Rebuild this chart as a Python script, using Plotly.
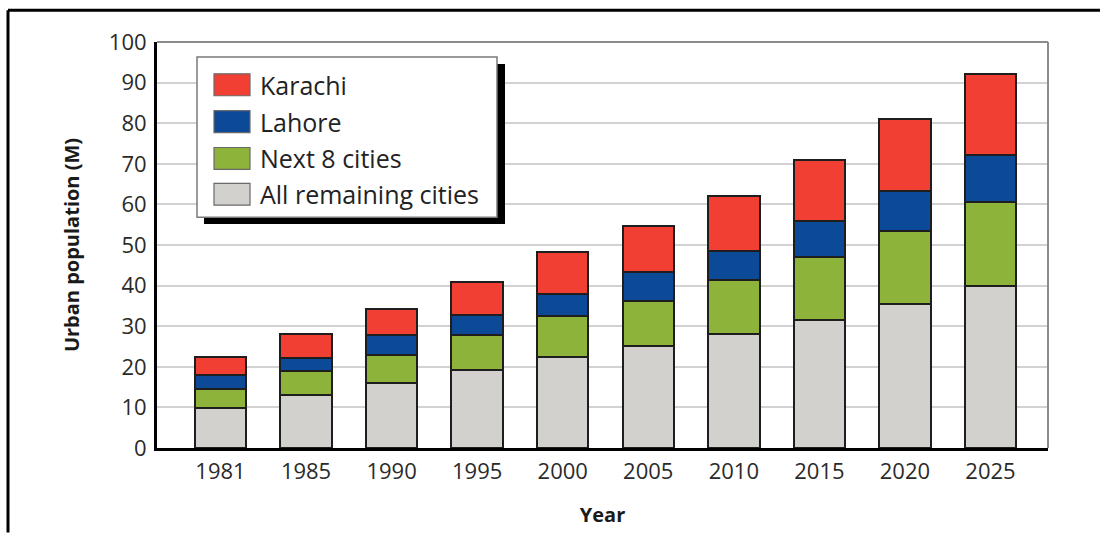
import plotly.graph_objects as go

# Urban population of Pakistan by city group (millions)
years = ["1981", "1985", "1990", "1995", "2000", "2005", "2010", "2015", "2020", "2025"]
remaining_cities = [9.8, 13.1, 15.9, 19.2, 22.5, 25.2, 28.0, 31.5, 35.4, 39.8]
next_8_cities = [4.7, 5.9, 7.1, 8.6, 10.0, 11.1, 13.5, 15.5, 18.1, 20.8]
lahore = [3.4, 3.2, 4.8, 4.9, 5.5, 7.1, 7.1, 8.9, 9.9, 11.6]
karachi = [4.6, 6.0, 6.5, 8.3, 10.2, 11.4, 13.4, 15.1, 17.6, 20.0]

y_ticks = list(range(0, 101, 10))

series = [
    ("All remaining cities", remaining_cities, "#D3D1CD"),
    ("Next 8 cities", next_8_cities, "#8DB33A"),
    ("Lahore", lahore, "#0C4A98"),
    ("Karachi", karachi, "#F23F33"),
]

FONT = "Open Sans"
W, H = 1100, 535
L, R, T, B = 157, 52, 42, 85
PW, PH = W - L - R, H - T - B


def px(x):
    return (x - L) / PW


def py(y):
    return (H - B - y) / PH


fig = go.Figure()
for name, vals, color in series:
    fig.add_trace(go.Bar(
        x=years, y=vals, name=name,
        marker=dict(color=color, line=dict(color="#1e1e1e", width=2)),
        showlegend=False,
    ))

shapes = [
    # plot frame: grey top and right edges
    dict(type="line", xref="paper", yref="paper", x0=0, x1=1, y0=1, y1=1,
         line=dict(color="#8c8c8c", width=2)),
    dict(type="line", xref="paper", yref="paper", x0=1, x1=1, y0=0, y1=1,
         line=dict(color="#8c8c8c", width=2)),
    # outer black frame corner
    dict(type="line", xref="paper", yref="paper", x0=px(8), x1=px(1100),
         y0=py(10), y1=py(10), line=dict(color="black", width=3)),
    dict(type="line", xref="paper", yref="paper", x0=px(8), x1=px(8),
         y0=py(10), y1=py(535), line=dict(color="black", width=3)),
    # legend shadow and box
    dict(type="rect", xref="paper", yref="paper", x0=px(204), x1=px(505),
         y0=py(64), y1=py(225), fillcolor="black", line=dict(width=0),
         layer="above"),
    dict(type="rect", xref="paper", yref="paper", x0=px(197), x1=px(497),
         y0=py(57), y1=py(218), fillcolor="white",
         line=dict(color="#7a7a7a", width=1.5), layer="above"),
]

annotations = []
legend_rows = [74, 111, 148, 184]
for (name, vals, color), top in zip(reversed(series), legend_rows):
    shapes.append(dict(type="rect", xref="paper", yref="paper",
                       x0=px(214), x1=px(250), y0=py(top), y1=py(top + 22),
                       fillcolor=color, line=dict(color="#6a6a6a", width=1.2),
                       layer="above"))
    annotations.append(dict(xref="paper", yref="paper", x=px(258), y=py(top + 11),
                            text=name, showarrow=False, xanchor="left",
                            yanchor="middle",
                            font=dict(family=FONT, size=25, color="#222")))

fig.update_layout(
    width=W, height=H,
    margin=dict(l=L, r=R, t=T, b=B, pad=0),
    paper_bgcolor="white", plot_bgcolor="white",
    barmode="stack", bargap=0.40,
    showlegend=False,
    shapes=shapes, annotations=annotations,
    font=dict(family=FONT, color="#2a2a2a"),
    xaxis=dict(
        type="category", range=[-0.742, 9.672],
        showline=True, linecolor="black", linewidth=3,
        showgrid=False, ticks="outside", ticklen=2, tickcolor="white",
        tickfont=dict(size=22, color="#2a2a2a"),
        title=dict(text="<b>Year</b>", font=dict(size=20, color="#1a1a1a"),
                   standoff=24),
    ),
    yaxis=dict(
        range=[0, 100], tickvals=y_ticks,
        showline=True, linecolor="black", linewidth=3,
        showgrid=True, gridcolor="#d2d2d2", gridwidth=2,
        ticks="outside", ticklen=3, tickcolor="white",
        tickfont=dict(size=22, color="#2a2a2a"), zeroline=False,
        title=dict(text="<b>Urban population (M)</b>",
                   font=dict(size=20, color="#1a1a1a"), standoff=24),
    ),
)

fig.write_html("out.html")
